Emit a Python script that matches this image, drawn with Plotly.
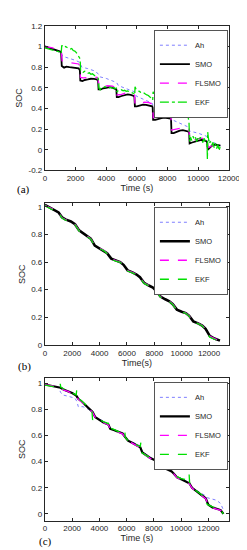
import plotly.graph_objects as go

# ---------------- data: subplot (a) ----------------
t_ah_a = [0, 500, 1000, 1080, 1150, 1500, 2000, 2280, 2400, 2800, 3200, 3480, 3600, 4000, 4400, 4680,
          4800, 5200, 5600, 5860, 5950, 6400, 7000, 7100, 7600, 8200, 8300, 8800, 9350, 9450, 10000,
          10550, 10650, 11000, 11450]
ah_a = [1.00, 0.975, 0.94, 0.93, 0.905, 0.89, 0.865, 0.845, 0.80, 0.785, 0.765, 0.735, 0.705, 0.69, 0.67, 0.65,
        0.62, 0.60, 0.58, 0.56, 0.52, 0.49, 0.45, 0.41, 0.37, 0.33, 0.29, 0.26, 0.22, 0.18, 0.16,
        0.13, 0.09, 0.07, 0.04]

t_smo_a = [0, 200, 400, 600, 800, 1000, 1060, 1100, 1250, 1400, 1600, 1800, 2000, 2200, 2280, 2310, 2450, 2600,
           2800, 3000, 3200, 3400, 3470, 3500, 3650, 3800, 4000, 4200, 4400, 4600, 4660, 4690, 4800, 5000,
           5200, 5400, 5600, 5800, 5840, 5870, 6000, 6200, 6400, 6600, 6800, 7000, 7030, 7060, 7200, 7400,
           7600, 7800, 8000, 8200, 8230, 8260, 8400, 8600, 8800, 9000, 9200, 9380, 9410, 9440, 9600, 9800,
           10000, 10200, 10400, 10560, 10590, 10620, 10700, 10900, 11100, 11300, 11450]
smo_a = [1.00, 0.99, 0.985, 0.975, 0.96, 0.95, 0.935, 0.81, 0.795, 0.805, 0.80, 0.798, 0.795, 0.788, 0.77, 0.67, 0.665, 0.675,
         0.68, 0.687, 0.685, 0.68, 0.665, 0.585, 0.585, 0.595, 0.60, 0.606, 0.60, 0.592, 0.585, 0.51, 0.51, 0.52,
         0.53, 0.536, 0.53, 0.52, 0.51, 0.42, 0.42, 0.43, 0.436, 0.435, 0.43, 0.42, 0.41, 0.29, 0.29, 0.30,
         0.305, 0.31, 0.306, 0.30, 0.29, 0.16, 0.16, 0.175, 0.185, 0.19, 0.186, 0.175, 0.16, 0.06, 0.07, 0.08,
         0.09, 0.095, 0.09, 0.08, 0.065, 0.00, 0.01, 0.04, 0.05, 0.045, 0.04]

t_fl_a = [0, 500, 1000, 1080, 1120, 1300, 1600, 1900, 2200, 2280, 2320, 2500, 2800, 3100, 3400, 3480, 3520,
          3800, 4100, 4400, 4650, 4700, 5000, 5300, 5600, 5840, 5880, 6200, 6500, 6800, 7020, 7070, 7400,
          7700, 8000, 8220, 8270, 8600, 8900, 9200, 9400, 9440, 9800, 10100, 10400, 10580, 10620, 10800,
          11000, 11200, 11450]
fl_a = [1.00, 0.985, 0.955, 0.94, 0.86, 0.85, 0.845, 0.84, 0.83, 0.81, 0.70, 0.695, 0.70, 0.705, 0.70, 0.68, 0.61,
        0.61, 0.62, 0.615, 0.60, 0.53, 0.535, 0.55, 0.545, 0.53, 0.44, 0.45, 0.46, 0.455, 0.44, 0.31, 0.32,
        0.33, 0.33, 0.32, 0.19, 0.20, 0.21, 0.21, 0.20, 0.08, 0.10, 0.11, 0.11, 0.10, 0.02, 0.03,
        0.05, 0.05, 0.045]

t_ekf_a = [0, 150, 300, 450, 600, 750, 900, 1000, 1060, 1100, 1150, 1250, 1350, 1450, 1550, 1650, 1750, 1850,
           1950, 2050, 2150, 2250, 2300, 2330, 2400, 2500, 2600, 2700, 2800, 2900, 3000, 3100, 3200, 3300,
           3400, 3480, 3520, 3600, 3700, 3800, 3900, 4000, 4100, 4200, 4300, 4400, 4500, 4600, 4680, 4700,
           4800, 4900, 5000, 5100, 5200, 5300, 5400, 5500, 5600, 5700, 5800, 5860, 5880, 5950, 6050, 6150,
           6250, 6350, 6450, 6550, 6650, 6750, 6850, 6950, 7030, 7060, 7150, 7250, 7350, 7450, 7550, 7650,
           7750, 7850, 7950, 8050, 8150, 8230, 8260, 8350, 8450, 8550, 8650, 8750, 8850, 8950, 9050, 9150,
           9250, 9350, 9400, 9440, 9500, 9580, 9660, 9740, 9820, 9900, 9980, 10060, 10140, 10220, 10300,
           10380, 10460, 10540, 10580, 10600, 10620, 10660, 10720, 10800, 10880, 10960, 11040, 11120, 11200,
           11280, 11360, 11450]
ekf_a = [0.985, 0.98, 0.975, 0.97, 0.965, 0.955, 0.95, 0.94, 0.93, 1.01, 1.005, 0.99, 1.0, 0.985, 0.98, 0.975, 0.98, 0.96,
         0.955, 0.94, 0.92, 0.90, 0.88, 0.76, 0.755, 0.75, 0.76, 0.745, 0.74, 0.745, 0.73, 0.735, 0.72, 0.71,
         0.705, 0.69, 0.60, 0.58, 0.605, 0.60, 0.61, 0.605, 0.61, 0.60, 0.605, 0.595, 0.60, 0.59, 0.60, 0.56,
         0.575, 0.57, 0.58, 0.57, 0.575, 0.565, 0.57, 0.56, 0.555, 0.55, 0.545, 0.53, 0.61, 0.585, 0.575, 0.57,
         0.555, 0.56, 0.545, 0.54, 0.53, 0.525, 0.51, 0.50, 0.48, 0.56, 0.54, 0.52, 0.51, 0.505, 0.49, 0.48,
         0.47, 0.45, 0.44, 0.43, 0.41, 0.40, 0.52, 0.49, 0.47, 0.455, 0.45, 0.43, 0.41, 0.40, 0.38, 0.36,
         0.34, 0.31, 0.27, 0.08, 0.12, 0.09, 0.13, 0.10, 0.12, 0.08, 0.11, 0.09, 0.12, 0.10, 0.07,
         0.11, 0.08, 0.06, 0.04, -0.09, 0.17, 0.12, 0.06, 0.08, 0.04, 0.07, 0.02, 0.06, 0.01,
         0.05, -0.01, 0.04]

# ---------------- data: subplot (b) ----------------
t_b = [0, 400, 800, 1000, 1250, 1500, 1900, 2200, 2500, 2800, 3100, 3350, 3650, 4000, 4300, 4550, 4850, 5200,
       5500, 5750, 6050, 6400, 6700, 6950, 7250, 7600, 7900, 8150, 8450, 8800, 9100, 9350, 9650, 10000,
       10300, 10550, 10850, 11200, 11500, 11750, 12050, 12400, 12800]
ah_b = [1.01, 0.99, 0.97, 0.955, 0.915, 0.905, 0.893, 0.872, 0.825, 0.81, 0.79, 0.768, 0.715, 0.698, 0.685, 0.662,
        0.62, 0.61, 0.60, 0.578, 0.535, 0.525, 0.51, 0.488, 0.445, 0.43, 0.415, 0.388, 0.345, 0.33, 0.315, 0.293,
        0.25, 0.24, 0.23, 0.208, 0.165, 0.155, 0.14, 0.113, 0.06, 0.045, 0.03]
smo_b = [1.015, 0.995, 0.975, 0.96, 0.925, 0.91, 0.895, 0.875, 0.83, 0.81, 0.79, 0.77, 0.72, 0.70, 0.685, 0.665,
         0.625, 0.61, 0.60, 0.58, 0.54, 0.525, 0.51, 0.49, 0.45, 0.43, 0.415, 0.39, 0.35, 0.33, 0.315, 0.295,
         0.255, 0.24, 0.23, 0.21, 0.17, 0.155, 0.14, 0.115, 0.065, 0.045, 0.03]
fl_b = [1.012, 0.993, 0.974, 0.958, 0.922, 0.908, 0.894, 0.874, 0.828, 0.809, 0.79, 0.769, 0.718, 0.70, 0.685, 0.664,
        0.623, 0.61, 0.60, 0.579, 0.538, 0.525, 0.51, 0.489, 0.448, 0.43, 0.415, 0.389, 0.348, 0.33, 0.315, 0.294,
        0.253, 0.24, 0.23, 0.209, 0.168, 0.155, 0.14, 0.114, 0.063, 0.045, 0.03]
ekf_b = [1.01, 0.99, 0.972, 0.957, 0.92, 0.905, 0.892, 0.872, 0.826, 0.806, 0.788, 0.768, 0.716, 0.697, 0.683, 0.662,
         0.62, 0.607, 0.598, 0.577, 0.535, 0.522, 0.508, 0.487, 0.445, 0.428, 0.413, 0.387, 0.345, 0.328, 0.313, 0.292,
         0.25, 0.238, 0.228, 0.207, 0.163, 0.153, 0.138, 0.11, 0.055, 0.04, 0.025]

# ---------------- data: subplot (c) ----------------
t_ah_c = [0, 600, 1000, 1150, 1300, 1700, 2200, 2350, 2450, 2800, 3200, 3500, 3700, 4200, 4700, 4800, 5400, 5880,
          6000, 6500, 7000, 7150, 7700, 8250, 8400, 9000, 9450, 9600, 10100, 10600, 10800, 11300, 11700,
          11900, 12200, 12600, 12900, 13100]
ah_c = [0.99, 0.98, 0.97, 0.93, 0.91, 0.90, 0.885, 0.86, 0.82, 0.82, 0.80, 0.775, 0.74, 0.715, 0.685, 0.65, 0.63, 0.60,
        0.565, 0.545, 0.52, 0.475, 0.44, 0.40, 0.375, 0.35, 0.32, 0.285, 0.27, 0.24, 0.20, 0.17, 0.145,
        0.125, 0.115, 0.105, 0.08, 0.03]

t_c = [0, 300, 600, 900, 1150, 1400, 1700, 2000, 2300, 2450, 2700, 3000, 3300, 3500, 3700, 4000, 4300, 4650,
       4800, 5100, 5400, 5700, 5880, 6100, 6400, 6700, 7000, 7150, 7400, 7700, 8000, 8250, 8400, 8700, 9000,
       9300, 9450, 9700, 10000, 10300, 10600, 10800, 11000, 11300, 11600, 11800, 12000, 12300, 12600, 12900, 13100]
smo_c = [0.99, 0.985, 0.98, 0.975, 0.965, 0.95, 0.94, 0.925, 0.905, 0.88, 0.86, 0.83, 0.80, 0.78, 0.74, 0.72, 0.70, 0.685,
         0.65, 0.64, 0.63, 0.615, 0.59, 0.56, 0.545, 0.53, 0.51, 0.47, 0.45, 0.43, 0.415, 0.395, 0.37, 0.355, 0.34,
         0.325, 0.31, 0.28, 0.265, 0.25, 0.235, 0.20, 0.185, 0.16, 0.14, 0.12, 0.07, 0.05, 0.04, 0.03, 0.00]
fl_c = [0.988, 0.983, 0.978, 0.972, 0.962, 0.947, 0.937, 0.922, 0.902, 0.878, 0.857, 0.827, 0.797, 0.777, 0.738, 0.717,
        0.697, 0.682, 0.648, 0.637, 0.627, 0.612, 0.588, 0.557, 0.542, 0.527, 0.507, 0.468, 0.447, 0.427, 0.412, 0.392,
        0.368, 0.352, 0.337, 0.322, 0.308, 0.277, 0.262, 0.247, 0.232, 0.198, 0.182, 0.157, 0.137, 0.117, 0.068,
        0.048, 0.038, 0.028, 0.0]

t_ekf_c = [0, 300, 600, 900, 1100, 1130, 1160, 1400, 1700, 2000, 2300, 2330, 2360, 2450, 2700, 3000, 3300, 3450,
           3500, 3600, 3700, 4000, 4300, 4650, 4680, 4720, 5100, 5400, 5700, 5850, 5870, 5900, 6100, 6400, 6700,
           7000, 7040, 7070, 7150, 7400, 7700, 8000, 8200, 8230, 8260, 8400, 8700, 9000, 9300, 9400, 9420, 9450,
           9700, 10000, 10300, 10500, 10580, 10620, 10800, 11000, 11300, 11600, 11750, 11850, 12000, 12300,
           12600, 12900, 13100]
ekf_c = [0.985, 0.98, 0.975, 0.97, 0.965, 0.995, 0.97, 0.955, 0.94, 0.93, 0.91, 0.945, 0.90, 0.885, 0.865, 0.835, 0.80, 0.79,
         0.72, 0.73, 0.735, 0.72, 0.705, 0.69, 0.705, 0.66, 0.645, 0.63, 0.615, 0.605, 0.625, 0.585, 0.56, 0.545, 0.53,
         0.515, 0.545, 0.49, 0.465, 0.45, 0.43, 0.415, 0.40, 0.45, 0.39, 0.37, 0.36, 0.35, 0.345, 0.35, 0.40, 0.32,
         0.285, 0.27, 0.265, 0.275, 0.31, 0.24, 0.20, 0.185, 0.16, 0.14, 0.12, 0.08, 0.07, 0.055,
         0.05, 0.03, 0.0]

series_names = ["Ah", "SMO", "FLSMO", "EKF"]
x_ticks = [0, 2000, 4000, 6000, 8000, 10000, 12000]
x_labels = ["0", "2000", "4000", "6000", "8000", "10000", "12000"]
y_ticks_a = [-0.2, 0, 0.2, 0.4, 0.6, 0.8, 1, 1.2]
y_labels_a = ["-0.2", "0", "0.2", "0.4", "0.6", "0.8", "1", "1.2"]
y_ticks_bc = [0, 0.2, 0.4, 0.6, 0.8, 1]
y_labels_bc = ["0", "0.2", "0.4", "0.6", "0.8", "1"]
panel_labels = ["(a)", "(b)", "(c)"]
x_titles = ["Time (s)", "Time(s)", "Time (s)"]

C_AH = "#7f7fff"
C_SMO = "#000000"
C_FL = "#ff00ff"
C_EKF = "#00e000"

fig = go.Figure()

panels = [
    ((t_ah_a, ah_a), (t_smo_a, smo_a), (t_fl_a, fl_a), (t_ekf_a, ekf_a), "dashdot"),
    ((t_b, ah_b), (t_b, smo_b), (t_b, fl_b), (t_b, ekf_b), "dash"),
    ((t_ah_c, ah_c), (t_c, smo_c), (t_c, fl_c), (t_ekf_c, ekf_c), "dash"),
]
smo_w = [1.8, 2.6, 2.2]
for i, (ah, smo, fl, ekf, ekf_dash) in enumerate(panels):
    suf = "" if i == 0 else str(i + 1)
    xa, ya, lg = "x" + suf, "y" + suf, "legend" + suf
    fig.add_trace(go.Scatter(x=ah[0], y=ah[1], name=series_names[0], mode="lines", xaxis=xa, yaxis=ya, legend=lg,
                             line=dict(color=C_AH, width=1, dash="dot")))
    fig.add_trace(go.Scatter(x=smo[0], y=smo[1], name=series_names[1], mode="lines", xaxis=xa, yaxis=ya, legend=lg,
                             line=dict(color=C_SMO, width=smo_w[i])))
    fig.add_trace(go.Scatter(x=fl[0], y=fl[1], name=series_names[2], mode="lines", xaxis=xa, yaxis=ya, legend=lg,
                             line=dict(color=C_FL, width=1.3, dash="dash")))
    fig.add_trace(go.Scatter(x=ekf[0], y=ekf[1], name=series_names[3], mode="lines", xaxis=xa, yaxis=ya, legend=lg,
                             line=dict(color=C_EKF, width=1.3, dash=ekf_dash)))

W, H = 247, 550
x_dom = [37 / W, 232 / W]
y_doms = [[1 - 161 / H, 1 - 14 / H], [1 - 339 / H, 1 - 194 / H], [1 - 517 / H, 1 - 372 / H]]
x_ranges = [[0, 12000], [0, 13450], [0, 13500]]
y_ranges = [[-0.2, 1.2], [-0.005, 1.03], [-0.05, 1.04]]
axis_font = dict(family="Liberation Sans, Arial, sans-serif", size=8, color="#262626")

layout = dict(width=W, height=H, margin=dict(l=0, r=0, t=0, b=0),
              paper_bgcolor="white", plot_bgcolor="white", showlegend=True,
              font=dict(family="Liberation Sans, Arial, sans-serif", size=8, color="#262626"))
annotations = []
for i in range(3):
    suf = "" if i == 0 else str(i + 1)
    layout["xaxis" + suf] = dict(domain=x_dom, anchor="y" + suf, range=x_ranges[i], tickvals=x_ticks,
                                 ticktext=x_labels,
                                 ticks="inside", ticklen=3, tickcolor="#262626", showline=True,
                                 linecolor="#262626", linewidth=1, mirror="ticks", showgrid=False,
                                 zeroline=False, tickfont=axis_font,
                                 title=dict(text=x_titles[i], font=dict(size=9, color="#262626"), standoff=2))
    layout["yaxis" + suf] = dict(domain=y_doms[i], anchor="x" + suf, range=y_ranges[i],
                                 tickvals=y_ticks_a if i == 0 else y_ticks_bc,
                                 ticktext=y_labels_a if i == 0 else y_labels_bc,
                                 ticks="inside", ticklen=3, tickcolor="#262626", showline=True,
                                 linecolor="#262626", linewidth=1, mirror="ticks", showgrid=False,
                                 zeroline=False, tickfont=axis_font,
                                 title=dict(text="SOC", font=dict(size=9, color="#262626"), standoff=4))
    layout["legend" + suf] = dict(x=231 / W, xanchor="right", y=y_doms[i][1] - 4 / H, yanchor="top",
                                  bgcolor="white", bordercolor="#555555", borderwidth=1,
                                  font=dict(size=7.5, color="#262626"), itemwidth=30,
                                  tracegroupgap=0)
    annotations.append(dict(text=panel_labels[i], xref="paper", yref="paper", showarrow=False,
                            x=[14 / W, 15 / W, 38 / W][i], y=y_doms[i][0] - [19, 21, 21][i] / H,
                            xanchor="center", yanchor="middle",
                            font=dict(family="Liberation Serif, Times New Roman, serif", size=11,
                                      color="#000000")))
layout["annotations"] = annotations
fig.update_layout(**layout)
fig.write_html("out.html")
